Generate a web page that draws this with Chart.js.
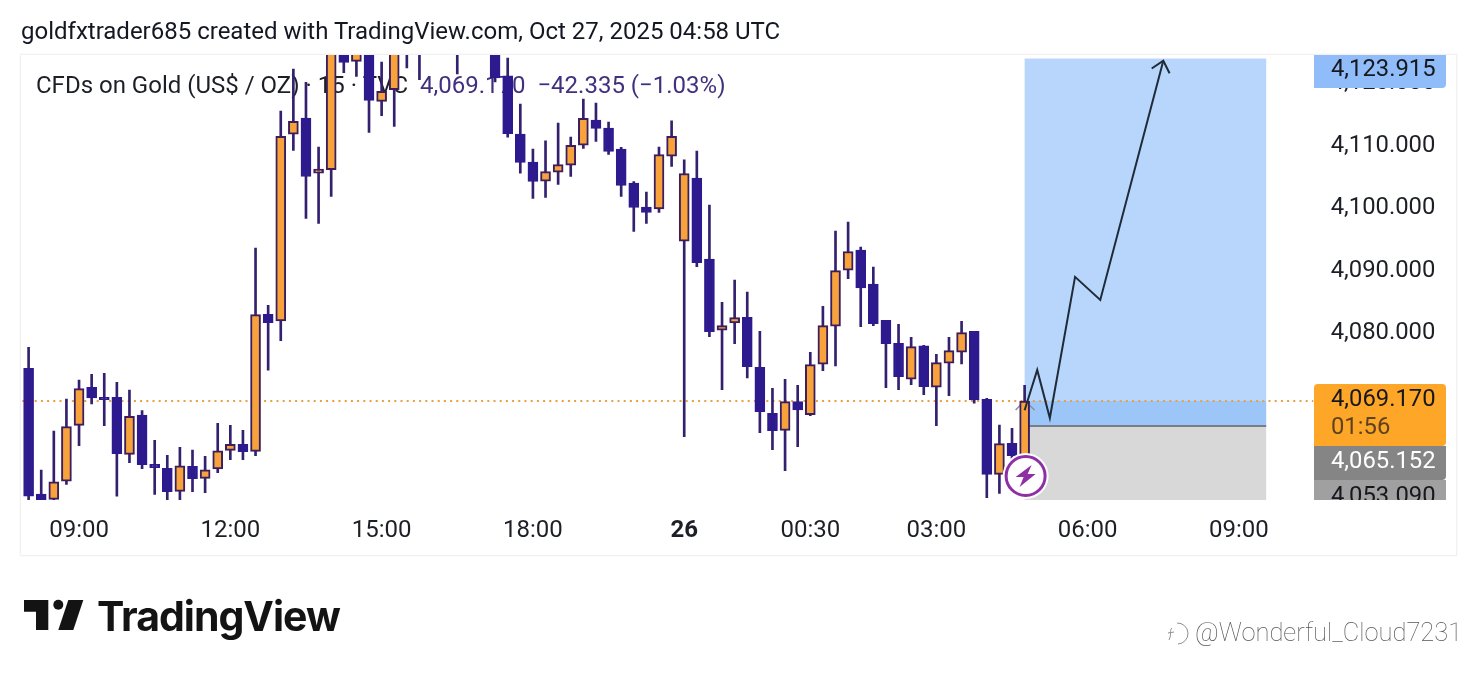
<!DOCTYPE html>
<html>
<head>
<meta charset="utf-8">
<style>
html,body{margin:0;padding:0;background:#fff;width:1476px;height:676px;overflow:hidden}
#wrap{position:relative;width:1476px;height:676px}
canvas{position:absolute;left:0;top:0}
.t{position:absolute;white-space:nowrap}
#frame{position:absolute;left:20px;top:54px;width:1435px;height:500px;border:1px solid #f1f1f1;box-shadow:0 0 0 .5px #f6f6f6}
#title{left:21px;top:17px;font:24px/28px Roboto,sans-serif;color:#131722}
#brand{left:97px;top:590px;font:700 41px/52px Inter,sans-serif;color:#131313;letter-spacing:-1px}
#mark{left:1195px;top:617px;font:100 25.5px/30px Roboto,sans-serif;color:#555}
svg{position:absolute}
</style>
</head>
<body>
<div id="wrap">
<canvas id="c" width="1476" height="676"></canvas>
<div id="frame"></div>
<div class="t" id="title">goldfxtrader685 created with TradingView.com, Oct 27, 2025 04:58 UTC</div>
<svg style="left:0;top:590px" width="96" height="50" viewBox="0 590 96 50">
<path fill="#131313" d="M24 600H48.3V630H36V611.7H24Z"/><circle fill="#131313" cx="58.3" cy="604.8" r="5"/><path fill="#131313" d="M68.3 600H83.3L73.3 630H58.3Z"/>
</svg>
<div class="t" id="brand">TradingView</div>
<svg style="left:1163px;top:620px" width="28" height="28" viewBox="0 0 28 28"><path fill="none" stroke="#8f8f8f" stroke-width="1" d="M14 3a10.500 10.500 0 0 1 1 21M9 8c-3 3 0 6-3 12M5 13l6-1"/></svg>
<div class="t" id="mark">@Wonderful_Cloud7231</div>
</div>
<script src="https://cdn.jsdelivr.net/npm/chart.js@4/dist/chart.umd.min.js"></script>
<script>
const highs=[4077.76,4058.13,4064.37,4069.49,4072.53,4073.44,4073.6,4072.16,4070.93,4067.62,4062.88,4060.48,4061.76,4061.33,4060.32,4065.6,4065.28,4064.48,4093.6,4084.48,
4115.52,4122.24,4120.1,4109.76,4131,4132,4133,4131,4123.36,4133,4134,4135,4136,4137,4136,4135,4134,4133,4124,4116.64,
4109.44,4110.77,4113.6,4111.36,4117.44,4116.8,4113.76,4109.7,4104.26,4102.56,4109.76,4113.97,4107.73,4109.12,4100.48,4084.96,4088.48,4086.56,4080.32,4071.2,
4072.64,4071.68,4076.96,4084.32,4096.32,4097.76,4093.76,4090.56,4082.08,4081.44,4079.36,4078.08,4076.64,4079.36,4081.92,4080.32,4069.6,4065.33,4064.8,4071.68];
const lows=[4053.33,4053.2,4053.3,4055.84,4062.02,4068.69,4065.22,4053.97,4059.3,4058.34,4054.24,4053.33,4053.33,4054.66,4054.5,4057.7,4059.78,4059.78,4060.42,4074.08,
4078.82,4109.22,4098.34,4097.54,4101.86,4121.65,4121.06,4112.1,4114.77,4113.06,4122.4,4120.53,4126,4127,4121.44,4126,4125.5,4120.16,4111.36,4105.6,
4101.54,4101.7,4103.78,4105.06,4109.54,4110.66,4108.58,4101.86,4096.26,4097.54,4099.3,4106.66,4063.46,4090.66,4079.46,4070.98,4078.34,4072.85,4064.1,4061.38,
4058.02,4061.86,4066.82,4074.02,4074.77,4088.74,4081.06,4081.22,4071.3,4070.98,4071.78,4070.18,4065.22,4070.02,4075.09,4068.8,4053.7,4054.4,4058.5,4059.5];
const opens=[4074.4,4054.29,4053.44,4056.37,4065.28,4071.36,4069.76,4069.76,4060.64,4066.93,4059.04,4058.4,4054.72,4058.72,4056.8,4058.29,4061.28,4062.24,4061.12,4083.04,
4081.97,4111.84,4114.4,4105.6,4106.13,4128.6,4123.46,4129,4117.06,4118.93,4127,4131,4132,4130,4132,4131,4130,4129,4121.17,4111.84,
4107.36,4104.32,4105.76,4106.88,4110.08,4114.08,4112.8,4109.44,4104,4100.16,4099.89,4108.32,4094.72,4104.8,4091.84,4080.48,4081.65,4082.56,4074.56,4067.2,
4064.48,4069.06,4066.98,4075.04,4081.12,4090.08,4093.28,4087.84,4082.08,4078.4,4072.64,4077.97,4071.36,4075.2,4076.96,4080.32,4069.44,4057.44,4062.4,4060.4];
const closes=[4053.97,4053.33,4056.26,4065.06,4071.14,4069.65,4069.38,4060.74,4066.72,4058.98,4058.5,4054.66,4058.82,4056.74,4058.18,4061.22,4062.24,4061.06,4082.98,4081.7,
4111.46,4113.86,4105.06,4106.24,4128,4123.3,4129.5,4117.22,4118.66,4128,4130,4128,4129,4133,4128,4128,4127,4120.8,4111.89,4107.3,
4104.26,4105.86,4106.98,4110.02,4114.34,4112.74,4109.06,4103.62,4100.1,4099.3,4108.58,4111.46,4105.54,4091.3,4080.26,4081.22,4082.5,4074.66,4067.46,4064.42,
4069.06,4067.73,4074.98,4081.22,4090.02,4093.06,4087.25,4081.54,4078.34,4073.06,4077.86,4071.46,4075.3,4077.22,4080.1,4069.33,4057.44,4062.34,4060.42,4069.17];
const axisTickIndex=[4,16,28,40,52,62,72,84,96];
const axisTickText=["09:00","12:00","15:00","18:00","26","00:30","03:00","06:00","09:00"];
const slotCount=102;
const pathIndex=[79,80,81,83,85,90];
const pathValues=[4067.7,4074.13,4066.45,4089.01,4085.33,4123.57];
const lastPrice=4069.17, targetPrice=4123.915, entryPrice=4065.152, stopPrice=4053.09;
const boxStart=79, boxEnd=98.16;
const yMin=4053.34, yMax=4124.64;
const tagTexts={target:"4,123.915",last:"4,069.170",timer:"01:56",entry:"4,065.152",stop:"4,053.090"};
const legendA="CFDs on Gold (US$ / OZ) · 15 · TVC";
const legendB="4,069.170  −42.335 (−1.03%)";

const labels=Array.from({length:slotCount},()=>"");
axisTickIndex.forEach((p,i)=>{labels[p]=axisTickText[i];});
const BULL="#f7a23b",BEAR="#2d1a8e",EDGE="#3c1e5e",WICK="#33206e";
const isBull=i=>closes[i]>=opens[i];
const wickData=highs.map((h,i)=>[lows[i],h]);
const bodyData=opens.map((o,i)=>[o,closes[i]]);
const pathData=Array.from({length:slotCount},()=>null);
pathIndex.forEach((p,i)=>{pathData[p]=pathValues[i];});
const FONT="Roboto, sans-serif";

const overlay={
 id:"overlay",
 beforeDatasetsDraw(ch){
  const c=ch.ctx,a=ch.chartArea,X=ch.scales.x,Y=ch.scales.y;
  const x0=X.getPixelForValue(boxStart),x1=X.getPixelForValue(boxEnd);
  const yT=Y.getPixelForValue(targetPrice),yL=Y.getPixelForValue(lastPrice),yE=Y.getPixelForValue(entryPrice),yS=Y.getPixelForValue(stopPrice);
  c.save();
  c.beginPath();c.rect(a.left,a.top,a.right-a.left,a.bottom-a.top);c.clip();
  c.fillStyle="#b8d6fb";c.fillRect(x0,yT,x1-x0,yL-yT);
  c.fillStyle="#9cc6f7";c.fillRect(x0,yL,x1-x0,yE-yL);
  c.fillStyle="#d8d8d8";c.fillRect(x0,yE,x1-x0,yS-yE);
  c.strokeStyle="#787d88";c.lineWidth=2;c.beginPath();c.moveTo(x0,yE);c.lineTo(x1,yE);c.stroke();
  c.restore();
  c.save();
  c.strokeStyle="#e9a043";c.lineWidth=1.8;c.setLineDash([2,4.2]);
  c.beginPath();c.moveTo(a.left,yL);c.lineTo(a.right+5,yL);c.stroke();c.setLineDash([]);
  const xc=X.getPixelForValue(79);
  c.strokeStyle="#8b8f96";c.lineWidth=1.5;c.beginPath();c.moveTo(xc-9,yL+9);c.lineTo(xc,yL);c.lineTo(xc+10,yL+9);c.stroke();
  c.textBaseline="middle";c.font="24px "+FONT;c.fillStyle="#1d1f26";
  c.fillText(legendA,36,87);
  c.fillStyle="#41307f";c.fillText(legendB,420,87);
  c.restore();
 },
 afterDatasetsDraw(ch){
  const c=ch.ctx,X=ch.scales.x,Y=ch.scales.y,a=ch.chartArea;
  c.save();
  const n=pathIndex.length;
  const tx=X.getPixelForValue(pathIndex[n-1]),ty=Y.getPixelForValue(pathValues[n-1]);
  const px=X.getPixelForValue(pathIndex[n-2]),py=Y.getPixelForValue(pathValues[n-2]);
  const ang=Math.atan2(py-ty,px-tx);
  c.strokeStyle="#1f2b38";c.lineWidth=2;c.beginPath();
  c.moveTo(tx+14*Math.cos(ang+.72),ty+14*Math.sin(ang+.72));c.lineTo(tx,ty);c.lineTo(tx+14*Math.cos(ang-.72),ty+14*Math.sin(ang-.72));c.stroke();
  const bx=X.getPixelForValue(79)+1,by=476;
  c.fillStyle="#fff";c.beginPath();c.arc(bx,by,23,0,7);c.fill();
  c.strokeStyle="#8e2fa6";c.lineWidth=3;c.beginPath();c.arc(bx,by,19.5,0,7);c.stroke();
  c.fillStyle="#8e2fa6";c.beginPath();
  c.moveTo(bx+6,by-11);c.lineTo(bx-10,by+1);c.lineTo(bx-2,by+1);c.lineTo(bx-6,by+11);c.lineTo(bx+10,by-2);c.lineTo(bx+2,by-2);c.closePath();c.fill();
  const tag=(y0,y1,bg,r)=>{c.fillStyle=bg;c.beginPath();c.roundRect(1314,y0,132,y1-y0,r);c.fill();};
  c.textBaseline="middle";c.font="23.8px "+FONT;
  tag(54,88,"#90bdf9",[0,0,4,0]);
  tag(384,446,"#fea628",[4,4,4,0]);
  tag(446,480,"#858585",[0,0,4,0]);
  c.save();c.beginPath();c.rect(1314,480,132,a.bottom-480);c.clip();
  tag(480,520,"#a0a0a0",[0,0,0,0]);
  c.fillStyle="#16181d";c.fillText(tagTexts.stop,1331,497);
  c.restore();
  c.fillStyle="#16181d";c.fillText(tagTexts.target,1331,70);
  c.fillText(tagTexts.last,1331,400);
  c.fillStyle="#5c4320";c.fillText(tagTexts.timer,1331,428);
  c.fillStyle="#fff";c.fillText(tagTexts.entry,1331,462);
  c.restore();
 }
};

new Chart(document.getElementById("c"),{
 type:"bar",
 plugins:[overlay],
 data:{labels,datasets:[
  {type:"line",data:pathData,spanGaps:true,borderColor:"#1f2b38",borderWidth:2,pointRadius:0,tension:0,order:0,clip:false},
  {data:bodyData,grouped:false,barThickness:10,borderWidth:2,borderSkipped:false,order:1,clip:0,
   backgroundColor:c=>isBull(c.dataIndex)?BULL:BEAR,borderColor:c=>isBull(c.dataIndex)?EDGE:BEAR},
  {data:wickData,grouped:false,barThickness:2,borderWidth:0,backgroundColor:WICK,order:2,clip:0}
 ]},
 options:{
  responsive:false,animation:false,events:[],
  layout:{padding:{left:22.3,right:21.7,top:54,bottom:0}},
  plugins:{legend:{display:false},tooltip:{enabled:false},title:{display:false}},
  scales:{
   x:{type:"category",offset:true,grid:{display:false},border:{display:false},
    afterFit(s){s.height=176;},
    ticks:{autoSkip:false,maxRotation:0,minRotation:0,padding:9,color:"#1d1f26",
     font:c=>({family:FONT,size:24,weight:(c.tick&&c.tick.label==="26")?"700":"400"})}},
   y:{position:"right",min:yMin,max:yMax,grid:{display:false},border:{display:false},
    afterFit(s){s.width=146;},
    ticks:{stepSize:10,includeBounds:false,padding:14.4,labelOffset:0,color:"#1d1f26",crossAlign:"near",
     font:{family:FONT,size:23.8},
     callback:v=>v.toLocaleString("en-US",{minimumFractionDigits:3,maximumFractionDigits:3})}}
  }
 }
});
</script>
</body>
</html>
